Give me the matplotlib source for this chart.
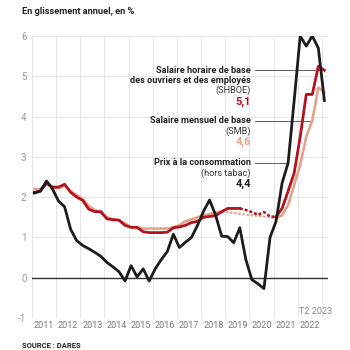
import matplotlib
matplotlib.use("Agg")
import matplotlib.pyplot as plt
import numpy as np

plt.rcParams['font.family'] = ['Roboto', 'DejaVu Sans']

# Quarterly series (year-on-year change, %), 49 quarters up to T2 2023
cpi = [2.1, 2.15, 2.4, 2.2, 1.9, 1.76, 1.2, 0.92, 0.8, 0.72, 0.63, 0.53,
       0.38, 0.27, 0.15, -0.08, 0.3, 0.02, 0.22, -0.08, 0.22, 0.45, 0.65, 1.08,
       0.75, 0.88, 1.0, 1.3, 1.65, 1.93, 1.55, 1.03, 1.02, 0.87, 1.24, 0.45,
       -0.05, -0.15, -0.27, 1.0, 1.4, 2.35, 2.85, 4.4, 6.0, 5.75, 6.0, 5.7, 4.4]
shboe = [2.12, 2.15, 2.35, 2.25, 2.25, 2.32, 2.12, 2.0, 1.92, 1.7, 1.64, 1.64,
         1.46, 1.44, 1.43, 1.3, 1.25, 1.25, 1.14, 1.12, 1.12, 1.12, 1.13, 1.24,
         1.26, 1.3, 1.37, 1.4, 1.5, 1.52, 1.54, 1.64, 1.72, 1.72, 1.72, 1.68,
         1.63, 1.56, 1.63, 1.52, 1.51, 1.72, 2.15, 2.6, 3.5, 4.55, 4.55, 5.25, 5.15]
smb = [2.2, 2.2, 2.33, 2.25, 2.22, 2.28, 2.15, 2.05, 1.95, 1.78, 1.68, 1.62,
       1.5, 1.45, 1.42, 1.35, 1.25, 1.25, 1.22, 1.22, 1.22, 1.22, 1.22, 1.25,
       1.3, 1.4, 1.45, 1.5, 1.55, 1.58, 1.62, 1.64, None, None, None, None,
       None, None, None, None, 1.48, 1.55, 1.8, 2.3, 2.8, 3.5, 3.9, 4.72, 4.6]
years = list(range(2011, 2023))
yticks = [-1, 0, 1, 2, 3, 4, 5, 6]

n = len(cpi)
t = 2011.1 + 0.25 * np.arange(n)
cpi = np.array(cpi, float)
shboe = np.array(shboe, float)
smb = np.array([np.nan if v is None else v for v in smb], float)

BLACK = '#1c1c1c'
RED = '#b3121e'
PINK = '#e3a38b'

fig = plt.figure(figsize=(3.5, 3.5), dpi=100)
W = H = 350
ax = fig.add_axes([32 / W, 1 - 318 / H, 296 / W, 282 / H])
ax.set_xlim(2011, 2023.25)
ax.set_ylim(-1, 6)

for s in ax.spines.values():
    s.set_visible(False)
for y in yticks:
    ax.axhline(y, color='#e6e6e6', lw=0.7, zorder=0)
for x in range(2011, 2024):
    ax.axvline(x, color='#e6e6e6', lw=0.7, zorder=0)
ax.axhline(0, color='#333333', lw=1.0, zorder=1)

# SMB (pink)
d1, d2 = 31, 40
ax.plot(t[:d1 + 1], smb[:d1 + 1], color=PINK, lw=1.9, zorder=2)
ax.plot([t[d1], t[d2]], [smb[d1], smb[d2]], color=PINK, lw=1.5, ls=(0, (1.2, 0.8)), zorder=2)
ax.plot(t[d2:], smb[d2:], color=PINK, lw=1.9, zorder=2)

# SHBOE (red)
r1, r2 = 34, 40
ax.plot(t[:r1 + 1], shboe[:r1 + 1], color=RED, lw=2.0, zorder=3)
ax.plot(t[r1:r2 + 1], shboe[r1:r2 + 1], color=RED, lw=1.8, ls=(0, (1.2, 0.8)), zorder=3)
ax.plot(t[r2:], shboe[r2:], color=RED, lw=2.0, zorder=3)

# CPI (black)
ax.plot(t, cpi, color=BLACK, lw=2.0, zorder=4)

ax.set_xticks([y + 0.5 for y in years])
ax.set_xticklabels([str(y) for y in years])
ax.set_yticks(yticks)
ax.set_yticklabels([str(y) for y in yticks])
ax.tick_params(axis='x', length=0, pad=2.5, labelsize=6.5, labelcolor='#777777')
ax.tick_params(axis='y', length=0, pad=4, labelsize=7, labelcolor='#999999')

# Annotations
tx = 2020.06
lx = 2020.23
def label(y_lead, x_end, lines):
    ax.plot([lx, x_end], [y_lead, y_lead], color='#444444', lw=0.6, zorder=1)
    off = 0
    for txt, weight, color, size, dy in lines:
        off += dy
        ax.annotate(txt, xy=(tx, y_lead), xytext=(0, -off), textcoords='offset points',
                    ha='right', va='center', fontsize=size, fontweight=weight, color=color)

label(shboe[-1], t[-1], [
    ("Salaire horaire de base", 'bold', '#222222', 6.6, 0),
    ("des ouvriers et des employés", 'bold', '#222222', 6.6, 7.2),
    ("(SHBOE)", 'normal', '#333333', 6.6, 7.2),
    ("5,1", 'bold', RED, 8, 8.0),
])
label(smb[46], t[46], [
    ("Salaire mensuel de base", 'bold', '#222222', 6.6, 0),
    ("(SMB)", 'normal', '#333333', 6.6, 7.6),
    ("4,6", 'bold', PINK, 8, 7.6),
])
label(cpi[42], t[42], [
    ("Prix à la consommation", 'bold', '#222222', 6.6, 0),
    ("(hors tabac)", 'normal', '#333333', 6.6, 7.4),
    ("4,4", 'bold', '#222222', 8, 7.8),
])

fig.text(332 / W, 1 - 311 / H, "T2 2023", ha='right', va='center', fontsize=6.5, color='#888888')
fig.text(22 / W, 1 - 12 / H, "En glissement annuel, en %", ha='left', va='center',
         fontsize=6.7, fontweight='bold', color='#222222')
fig.text(22 / W, 1 - 345 / H, "SOURCE : DARES", ha='left', va='center',
         fontsize=5.5, fontweight='bold', color='#222222')

fig.savefig('out.png', dpi=100)
